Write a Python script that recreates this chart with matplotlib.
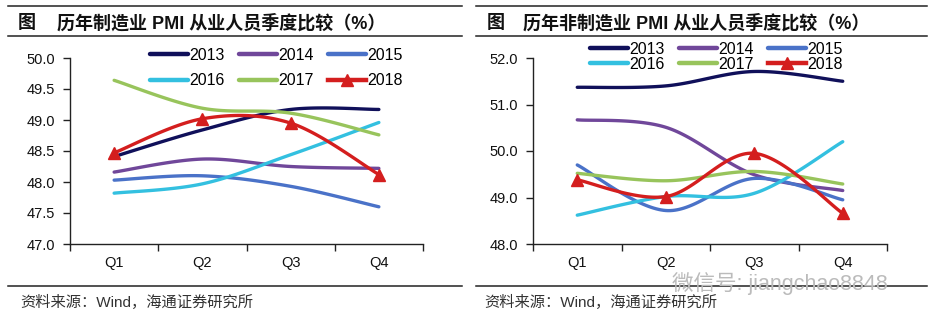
import numpy as np
import matplotlib
matplotlib.use("Agg")
import matplotlib.pyplot as plt
from matplotlib.lines import Line2D

plt.rcParams['font.family'] = ['Liberation Sans', 'Noto Sans CJK SC', 'DejaVu Sans']

# Data
quarters = ['Q1', 'Q2', 'Q3', 'Q4']
years = ['2013', '2014', '2015', '2016', '2017', '2018']

mfg = {
    '2013': [48.41, 48.84, 49.17, 49.17],
    '2014': [48.16, 48.37, 48.25, 48.22],
    '2015': [48.03, 48.10, 47.93, 47.60],
    '2016': [47.82, 47.97, 48.44, 48.96],
    '2017': [49.64, 49.19, 49.11, 48.76],
    '2018': [48.47, 49.02, 48.95, 48.12],
}
nonmfg = {
    '2013': [51.37, 51.40, 51.71, 51.50],
    '2014': [50.67, 50.51, 49.49, 49.15],
    '2015': [49.70, 48.72, 49.41, 48.95],
    '2016': [48.62, 49.02, 49.09, 50.20],
    '2017': [49.52, 49.36, 49.56, 49.29],
    '2018': [49.38, 49.02, 49.95, 48.66],
}

colors = {
    '2013': '#10105a',
    '2014': '#70479a',
    '2015': '#4a72c8',
    '2016': '#33c0e0',
    '2017': '#98c45c',
    '2018': '#d41e1e',
}

TXT = '#111111'


def smooth(x, y, n=40):
    # Excel-style smoothed line (uniform Catmull-Rom as cubic Bezier)
    p = np.column_stack([x, y]).astype(float)
    p = np.vstack([p[0], p, p[-1]])
    out = []
    t = np.linspace(0, 1, n)[:, None]
    for i in range(1, len(p) - 2):
        p0, p1, p2, p3 = p[i - 1], p[i], p[i + 1], p[i + 2]
        c1 = p1 + (p2 - p0) / 6
        c2 = p2 - (p3 - p1) / 6
        seg = ((1 - t) ** 3) * p1 + 3 * ((1 - t) ** 2) * t * c1 + 3 * (1 - t) * t ** 2 * c2 + t ** 3 * p2
        out.append(seg if i == 1 else seg[1:])
    out = np.vstack(out)
    return out[:, 0], out[:, 1]


def draw_panel(ax, data, ylim, yticks, leg_anchor, labelspacing):
    x = np.arange(len(quarters))
    for yr in years:
        sx, sy = smooth(x, data[yr])
        z = 5 if yr == '2018' else 3
        ax.plot(sx, sy, color=colors[yr], lw=2.4, solid_capstyle='round', zorder=z)
    # 2018 triangles at the data points
    ax.plot(x, data['2018'], ls='none', marker='^', ms=9, color=colors['2018'], zorder=6)

    ax.set_xlim(-0.5, len(quarters) - 0.5)
    ax.set_ylim(*ylim)
    ax.set_yticks(yticks)
    ax.set_yticklabels([f'{v:.1f}' for v in yticks])
    ax.set_xticks(np.arange(-0.5, len(quarters), 1.0))
    ax.set_xticklabels([])
    ax.set_xticks(x, minor=True)
    ax.set_xticklabels(quarters, minor=True)
    ax.tick_params(axis='x', which='major', direction='out', length=5, width=1, color='#222222')
    ax.tick_params(axis='x', which='minor', length=0, pad=9, labelsize=10.5, labelcolor=TXT)
    ax.tick_params(axis='y', direction='out', length=5, width=1, pad=6, labelsize=10.5,
                   labelcolor=TXT, color='#222222')
    for s in ['top', 'right']:
        ax.spines[s].set_visible(False)
    for s in ['left', 'bottom']:
        ax.spines[s].set_color('#222222')
        ax.spines[s].set_linewidth(1)

    # legend fills column by column, so reorder to read row by row
    order = ['2013', '2016', '2014', '2017', '2015', '2018']
    handles = []
    for yr in order:
        if yr == '2018':
            handles.append(Line2D([], [], color=colors[yr], lw=3.2, marker='^', ms=8))
        else:
            handles.append(Line2D([], [], color=colors[yr], lw=3.2, solid_capstyle='round'))
    ax.legend(handles, order, ncol=3, frameon=False, fontsize=11.5, loc='upper center',
              bbox_to_anchor=leg_anchor, bbox_transform=fig.transFigure,
              handlelength=2.4, handletextpad=0.05, columnspacing=0.9,
              labelspacing=labelspacing, borderaxespad=0, borderpad=0, numpoints=1)


fig = plt.figure(figsize=(9.4, 3.26), dpi=100)
W, H = 940, 326

ax1 = fig.add_axes([70 / W, (H - 244) / H, 353 / W, 186 / H])
ax2 = fig.add_axes([533 / W, (H - 244) / H, 354 / W, 186 / H])

draw_panel(ax1, mfg, (47.0, 50.0), np.arange(47.0, 50.01, 0.5), (276 / W, 1 - 48 / H), 0.65)
draw_panel(ax2, nonmfg, (48.0, 52.0), np.arange(48.0, 52.01, 1.0), (716 / W, 1 - 42 / H), 0.0)

# Horizontal rules
for (x0, x1) in [(8, 462), (476, 927)]:
    for yy in [6, 36, 286]:
        fig.add_artist(Line2D([x0 / W, x1 / W], [1 - yy / H, 1 - yy / H], color='#222222',
                              lw=1.1, transform=fig.transFigure))

# Titles
fig.text(18 / W, 1 - 23 / H, '图', fontsize=13, weight='bold', va='center', color=TXT)
fig.text(57 / W, 1 - 23 / H, '历年制造业 PMI 从业人员季度比较（%）', fontsize=13,
         weight='bold', va='center', color=TXT)
fig.text(487 / W, 1 - 23 / H, '图', fontsize=13, weight='bold', va='center', color=TXT)
fig.text(523 / W, 1 - 23 / H, '历年非制造业 PMI 从业人员季度比较（%）', fontsize=13,
         weight='bold', va='center', color=TXT)

# Source notes
fig.text(20 / W, 1 - 302 / H, '资料来源：Wind，海通证券研究所', fontsize=11, va='center', color='#333333')
fig.text(484 / W, 1 - 302 / H, '资料来源：Wind，海通证券研究所', fontsize=11, va='center', color='#333333')

# Watermark
fig.text(672 / W, 1 - 284 / H, '微信号: jiangchao8848', fontsize=15.5, va='center',
         color='#bbbbbb', zorder=10)

fig.savefig('out.png', dpi=100, facecolor='white')
